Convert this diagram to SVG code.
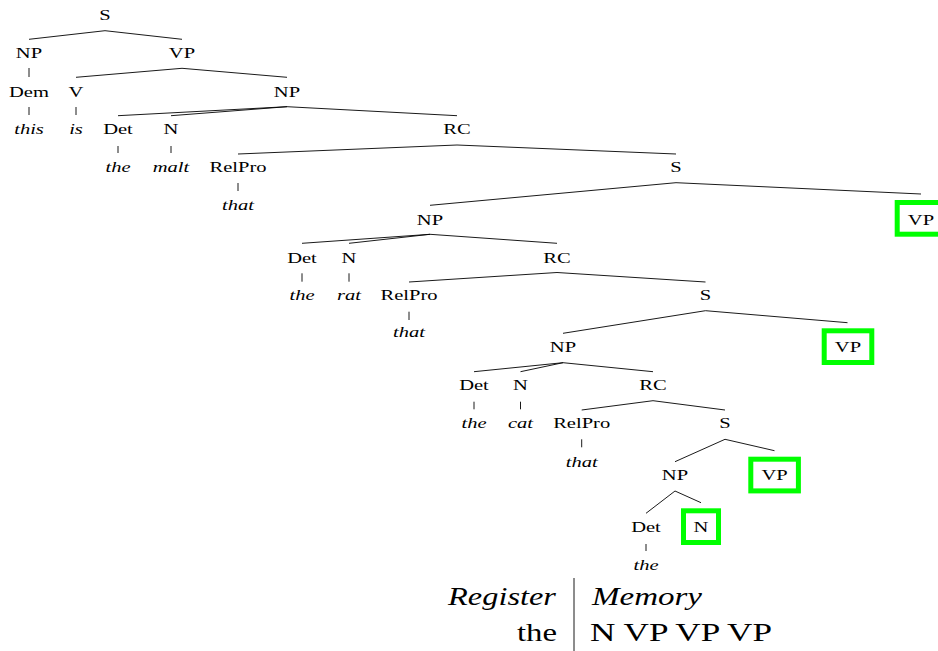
<svg xmlns="http://www.w3.org/2000/svg" width="938" height="651" viewBox="0 0 938 651">
<style>
.t{font-size:15px;text-anchor:middle}
.i{font-style:italic}
.big{font-size:25px}
.edge{stroke:#000;stroke-width:0.9;fill:none}
.box{fill:none;stroke:#00ff00;stroke-width:5}
</style>
<rect width="938" height="651" fill="#fff"/>
<g id="connectors" class="edge">
<path d="M29,39.3 L105,30.7 L182,39.3"/>
<path d="M29,68 V77"/>
<path d="M76,77.3 L182,68.3 L287,77.3"/>
<path d="M29,107 V115 M76,107 V115"/>
<path d="M118,115.7 L287,106.7 L457,115.7 M171,115.7 L287,106.7"/>
<path d="M118,146 V153 M171,146 V153"/>
<path d="M238,154 L457,145 L676,154"/>
<path d="M238,183 V191"/>
<path d="M430,205.3 L676,182.7 L921,194"/>
<path d="M302,243.3 L430,234.3 L557,243.3 M349,243.3 L430,234.3"/>
<path d="M302,273.3 V281.7 M349,273.3 V281.7"/>
<path d="M409,282 L557,272.5 L705.5,282"/>
<path d="M409,311.7 V320"/>
<path d="M563,333.3 L705.5,310.7 L847.5,322.7"/>
<path d="M474,371.7 L563,362.7 L653,371.7 M520.5,371.7 L563,362.7"/>
<path d="M474,401.7 V409.3 M520.5,401.7 V409.3"/>
<path d="M581.7,410 L653,400.7 L725,410"/>
<path d="M581.7,439.3 V447.3"/>
<path d="M675,461.7 L725,439.3 L774.5,450.7"/>
<path d="M646,513.3 L675,491 L701,502.7"/>
<path d="M646,544 V551"/>
</g>
<g font-family="'Liberation Serif', 'DejaVu Serif', serif" fill="#000">
<g id="n-S1"><text class="t" transform="translate(105,20) scale(1.37,1)">S</text></g>
<g id="n-NP1"><text class="t" transform="translate(29,58.3) scale(1.37,1)">NP</text></g>
<g id="n-VP1"><text class="t" transform="translate(182,58.3) scale(1.37,1)">VP</text></g>
<g id="n-Dem"><text class="t" transform="translate(29,96.7) scale(1.37,1)">Dem</text></g>
<g id="n-V"><text class="t" transform="translate(76,96.7) scale(1.37,1)">V</text></g>
<g id="n-NP2"><text class="t" transform="translate(287,96.7) scale(1.37,1)">NP</text></g>
<g id="w-this"><text class="t i" transform="translate(29,133.5) scale(1.37,1)">this</text></g>
<g id="w-is"><text class="t i" transform="translate(76,133.5) scale(1.37,1)">is</text></g>
<g id="n-Det1"><text class="t" transform="translate(118,133.5) scale(1.37,1)">Det</text></g>
<g id="n-N1"><text class="t" transform="translate(171,133.5) scale(1.37,1)">N</text></g>
<g id="n-RC1"><text class="t" transform="translate(457,133.5) scale(1.37,1)">RC</text></g>
<g id="w-the1"><text class="t i" transform="translate(118,172) scale(1.37,1)">the</text></g>
<g id="w-malt"><text class="t i" transform="translate(171,172) scale(1.37,1)">malt</text></g>
<g id="n-RelPro1"><text class="t" transform="translate(238,172) scale(1.37,1)">RelPro</text></g>
<g id="n-S2"><text class="t" transform="translate(676,172) scale(1.37,1)">S</text></g>
<g id="w-that1"><text class="t i" transform="translate(238,209.5) scale(1.37,1)">that</text></g>
<g id="n-NP3"><text class="t" transform="translate(430,225) scale(1.37,1)">NP</text></g>
<g id="n-VP2"><rect class="box" x="897.2" y="202.5" width="47.6" height="31.7"/><text class="t" transform="translate(921,225) scale(1.37,1)">VP</text></g>
<g id="n-Det2"><text class="t" transform="translate(302,262.7) scale(1.37,1)">Det</text></g>
<g id="n-N2"><text class="t" transform="translate(349,262.7) scale(1.37,1)">N</text></g>
<g id="n-RC2"><text class="t" transform="translate(557,262.7) scale(1.37,1)">RC</text></g>
<g id="w-the2"><text class="t i" transform="translate(302,300) scale(1.37,1)">the</text></g>
<g id="w-rat"><text class="t i" transform="translate(349,300) scale(1.37,1)">rat</text></g>
<g id="n-RelPro2"><text class="t" transform="translate(409,300) scale(1.37,1)">RelPro</text></g>
<g id="n-S3"><text class="t" transform="translate(705.5,300) scale(1.37,1)">S</text></g>
<g id="w-that2"><text class="t i" transform="translate(409,336.7) scale(1.37,1)">that</text></g>
<g id="n-NP4"><text class="t" transform="translate(563,352) scale(1.37,1)">NP</text></g>
<g id="n-VP3"><rect class="box" x="824.2" y="330.8" width="47.6" height="31.7"/><text class="t" transform="translate(848,352) scale(1.37,1)">VP</text></g>
<g id="n-Det3"><text class="t" transform="translate(474,390) scale(1.37,1)">Det</text></g>
<g id="n-N3"><text class="t" transform="translate(520.5,390) scale(1.37,1)">N</text></g>
<g id="n-RC3"><text class="t" transform="translate(653,390) scale(1.37,1)">RC</text></g>
<g id="w-the3"><text class="t i" transform="translate(474,428.3) scale(1.37,1)">the</text></g>
<g id="w-cat"><text class="t i" transform="translate(520.5,428.3) scale(1.37,1)">cat</text></g>
<g id="n-RelPro3"><text class="t" transform="translate(581.7,428.3) scale(1.37,1)">RelPro</text></g>
<g id="n-S4"><text class="t" transform="translate(725,428.3) scale(1.37,1)">S</text></g>
<g id="w-that3"><text class="t i" transform="translate(581.7,466.7) scale(1.37,1)">that</text></g>
<g id="n-NP5"><text class="t" transform="translate(675,480) scale(1.37,1)">NP</text></g>
<g id="n-VP4"><rect class="box" x="750.8" y="459.2" width="47.6" height="31.7"/><text class="t" transform="translate(774.6,480) scale(1.37,1)">VP</text></g>
<g id="n-Det4"><text class="t" transform="translate(646,532.3) scale(1.37,1)">Det</text></g>
<g id="n-N4"><rect class="box" x="683.5" y="510.8" width="35" height="31.7"/><text class="t" transform="translate(701,532.3) scale(1.37,1)">N</text></g>
<g id="w-the4"><text class="t i" transform="translate(646,570) scale(1.37,1)">the</text></g>
<g id="table">
<line class="edge" x1="574" y1="578" x2="574" y2="651"/>
<text class="big i" x="448" y="605" textLength="108" lengthAdjust="spacingAndGlyphs">Register</text>
<text class="big i" x="592" y="605" textLength="110" lengthAdjust="spacingAndGlyphs">Memory</text>
<text class="big" x="517" y="641" textLength="40" lengthAdjust="spacingAndGlyphs">the</text>
<text class="big" x="590" y="641" textLength="182" lengthAdjust="spacingAndGlyphs">N VP VP VP</text>
</g>
</g>
</svg>
